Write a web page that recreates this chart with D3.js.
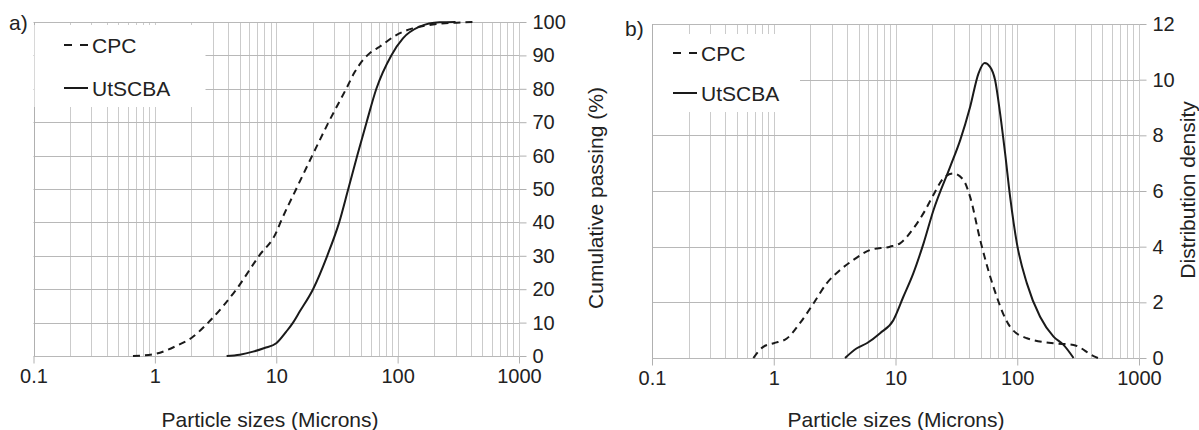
<!DOCTYPE html>
<html>
<head>
<meta charset="utf-8">
<script src="https://cdnjs.cloudflare.com/ajax/libs/d3/7.8.5/d3.min.js"></script>
<style>
  html, body { margin: 0; padding: 0; background: #fff; }
  svg { display: block; }
  text { font-family: "Liberation Sans", Arial, Helvetica, sans-serif; fill: #222; }
</style>
</head>
<body>
<svg id="chart" width="1199" height="430"></svg>
<script>
// ---------- data ----------
const xTickValues = [0.1, 1, 10, 100, 1000];
const xTickLabels = ["0.1", "1", "10", "100", "1000"];
const cumTicks = [0, 10, 20, 30, 40, 50, 60, 70, 80, 90, 100];
const denTicks = [0, 2, 4, 6, 8, 10, 12];
const seriesNames = ["CPC", "UtSCBA"];

// a) cumulative passing (%)
const cpcCumX = [0.66, 1, 1.5, 2, 2.75, 4.7, 7.22, 10, 10.83, 14.6, 19.8, 27.0, 37.7, 44.3, 51.8, 59.5, 71, 97.5, 133, 183, 267, 417];
const cpcCumY = [0, 0.6, 3, 5.4, 10, 20, 30, 37, 40, 50, 60, 70, 80, 85, 88.6, 90.8, 92.6, 96.1, 98.1, 99.1, 99.7, 100];
const utCumX = [3.9, 5, 6.44, 8, 10, 12.1, 13.75, 15.6, 20.1, 26.3, 33.0, 39.2, 46.5, 55.5, 66.8, 88.7, 110.6, 151.7, 222, 300];
const utCumY = [0, 0.4, 1.3, 2.4, 3.8, 7.3, 10, 13.3, 20, 30, 40, 50, 60, 70, 80, 90, 95.1, 98.6, 99.9, 100];

// b) distribution density
const cpcDenX = [0.68, 0.82, 1, 1.28, 1.64, 2.12, 2.72, 3.5, 4.5, 6.18, 9.0, 10.9, 14, 17.5, 21, 25, 29.9, 36.2, 41, 49.6, 63.7, 87.4, 120, 198.6, 290, 423, 460];
const cpcDenY = [0, 0.4, 0.53, 0.7, 1.25, 1.96, 2.68, 3.16, 3.52, 3.88, 4.0, 4.12, 4.65, 5.3, 5.95, 6.48, 6.63, 6.39, 5.79, 4.24, 2.56, 1.12, 0.71, 0.53, 0.47, 0.07, 0];
const utDenX = [3.85, 4.81, 5.81, 7.47, 9.6, 11.6, 14, 17, 20.5, 28.1, 34, 41, 48, 54, 59.8, 65.8, 72.3, 79.5, 87.4, 99.3, 120, 154, 198.6, 240, 290];
const utDenY = [0, 0.35, 0.53, 0.89, 1.36, 2.2, 3.04, 4.12, 5.31, 6.87, 7.83, 9.02, 10.22, 10.6, 10.46, 9.98, 8.79, 7.35, 5.79, 4.12, 2.68, 1.48, 0.77, 0.47, 0];

// ---------- drawing ----------
const svg = d3.select("#chart");
const gridMinor = [];
for (let e = -1; e < 3; e++) for (let k = 1; k < 10; k++) gridMinor.push(k * Math.pow(10, e));
gridMinor.push(1000);

function panel(cfg) {
  const x = d3.scaleLog().domain([0.1, 1000]).range([cfg.left, cfg.right]);
  const y = d3.scaleLinear().domain([0, cfg.ymax]).range([cfg.bottom, cfg.top]);
  const g = svg.append("g");

  // vertical grid
  g.append("g").selectAll("line").data(gridMinor).join("line")
    .attr("x1", d => Math.round(x(d)) + 0.5).attr("x2", d => Math.round(x(d)) + 0.5)
    .attr("y1", cfg.top).attr("y2", cfg.bottom)
    .attr("stroke", "#cbcbcb").attr("stroke-width", 1);
  // horizontal grid
  g.append("g").selectAll("line").data(cfg.yticks).join("line")
    .attr("x1", cfg.left).attr("x2", cfg.right)
    .attr("y1", d => Math.round(y(d)) + 0.5).attr("y2", d => Math.round(y(d)) + 0.5)
    .attr("stroke", "#b8b8b8").attr("stroke-width", 1);
  // left frame
  g.append("line").attr("x1", Math.round(cfg.left) + 0.5).attr("x2", Math.round(cfg.left) + 0.5)
    .attr("y1", cfg.top).attr("y2", cfg.bottom).attr("stroke", "#b0b0b0");

  // legend box (covers grid)
  g.append("rect").attr("x", cfg.left + 1).attr("y", cfg.legY0)
    .attr("width", cfg.legW).attr("height", cfg.legH).attr("fill", "#fff");

  // bottom axis
  const xAxis = d3.axisBottom(x).tickValues(xTickValues)
    .tickFormat((d, i) => xTickLabels[i]).tickSize(7).tickPadding(5);
  const gx = g.append("g").attr("transform", `translate(0,${Math.round(cfg.bottom) + 0.5})`).call(xAxis);
  gx.select(".domain").remove();
  gx.selectAll(".tick line").attr("stroke", "#b0b0b0");
  gx.selectAll(".tick text").style("font-size", "20px").attr("fill", "#222")
    .style("font-family", "'Liberation Sans', Arial, sans-serif");

  // right axis
  const yAxis = d3.axisRight(y).tickValues(cfg.yticks).tickSize(7).tickPadding(6);
  const gy = g.append("g").attr("transform", `translate(${Math.round(cfg.right) + 0.5},0)`).call(yAxis);
  gy.select(".domain").remove();
  gy.selectAll(".tick line").attr("stroke", "#b0b0b0");
  gy.selectAll(".tick text").style("font-size", "20px").attr("fill", "#222")
    .style("font-family", "'Liberation Sans', Arial, sans-serif");

  // curves
  const line = d3.line().x(d => x(d[0])).y(d => y(d[1])).curve(d3.curveMonotoneX);
  g.append("path").datum(d3.zip(cfg.cpcX, cfg.cpcY)).attr("d", line)
    .attr("fill", "none").attr("stroke", "#1a1a1a").attr("stroke-width", 2)
    .attr("stroke-dasharray", "7,5");
  g.append("path").datum(d3.zip(cfg.utX, cfg.utY)).attr("d", line)
    .attr("fill", "none").attr("stroke", "#1a1a1a").attr("stroke-width", 2);

  // legend
  const lg = g.append("g");
  lg.append("line").attr("x1", cfg.legLX).attr("x2", cfg.legLX + 24)
    .attr("y1", cfg.legY1).attr("y2", cfg.legY1)
    .attr("stroke", "#1a1a1a").attr("stroke-width", 2).attr("stroke-dasharray", "8,8");
  lg.append("text").attr("x", cfg.legLX + 28).attr("y", cfg.legY1 + 7.5)
    .style("font-size", "21px").text(seriesNames[0]);
  lg.append("line").attr("x1", cfg.legLX).attr("x2", cfg.legLX + 24)
    .attr("y1", cfg.legY2).attr("y2", cfg.legY2)
    .attr("stroke", "#1a1a1a").attr("stroke-width", 2);
  lg.append("text").attr("x", cfg.legLX + 28).attr("y", cfg.legY2 + 7.5)
    .style("font-size", "21px").text(seriesNames[1]);

  // titles
  g.append("text").attr("x", cfg.titleX).attr("y", 427).attr("text-anchor", "middle")
    .style("font-size", "21px").text("Particle sizes (Microns)");
  g.append("text").attr("transform", `translate(${cfg.yTitleX},${cfg.yTitleY}) rotate(-90)`)
    .attr("text-anchor", "middle").style("font-size", "21px").text(cfg.yTitle);
  g.append("text").attr("x", cfg.tagX).attr("y", cfg.tagY)
    .style("font-size", "21px").text(cfg.tag);
}

panel({
  left: 33.5, right: 519, top: 22, bottom: 356, ymax: 100, yticks: cumTicks,
  cpcX: cpcCumX, cpcY: cpcCumY, utX: utCumX, utY: utCumY,
  legY0: 25, legW: 171, legH: 82, legLX: 64, legY1: 45, legY2: 88,
  titleX: 270, yTitleX: 603, yTitleY: 198, yTitle: "Cumulative passing (%)",
  tag: "a)", tagX: 9, tagY: 30
});

panel({
  left: 652, right: 1139, top: 24, bottom: 358, ymax: 12, yticks: denTicks,
  cpcX: cpcDenX, cpcY: cpcDenY, utX: utDenX, utY: utDenY,
  legY0: 34, legW: 147, legH: 78, legLX: 673, legY1: 53, legY2: 93,
  titleX: 896, yTitleX: 1195, yTitleY: 190, yTitle: "Distribution density",
  tag: "b)", tagX: 625, tagY: 36
});
</script>
</body>
</html>
